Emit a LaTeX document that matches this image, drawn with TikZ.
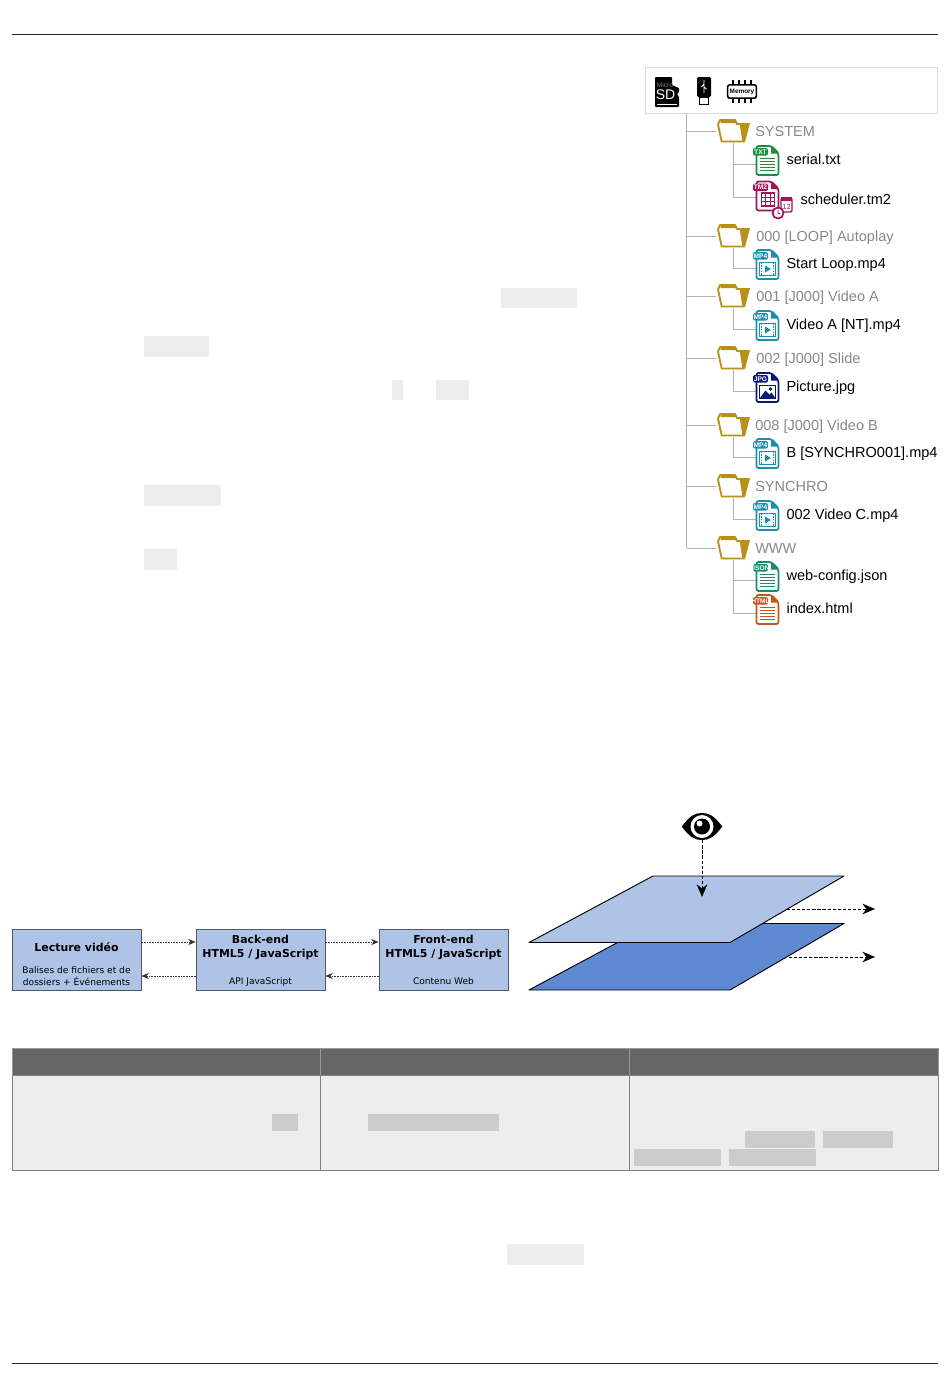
\documentclass[tikz,border=0pt]{standalone}
\usepackage{fontspec}
\setmainfont{Liberation Sans}
\newfontfamily\dejavu{DejaVu Sans}
\usetikzlibrary{positioning,arrows.meta}

\definecolor{dirclr}{HTML}{B8901A}
\definecolor{txtclr}{HTML}{1E8C3A}
\definecolor{tmclr}{HTML}{A6125A}
\definecolor{mpclr}{HTML}{1A8FAE}
\definecolor{jpgclr}{HTML}{0A1580}
\definecolor{jsonclr}{HTML}{1B8A6B}
\definecolor{htmlclr}{HTML}{C2541C}
\definecolor{blockclr}{HTML}{AEC3E6}
\definecolor{deepclr}{HTML}{5F8AD2}

\newcommand{\doclines}{%
  \foreach \ly in {-2,1,4,7,10} \draw[line width=1.1pt] (-7.5,\ly) -- (7.5,\ly);
}
\newcommand{\docvideo}{%
  \draw[line width=1pt] (-8,-2) rectangle (8,11);
  \draw[line width=1pt,dash pattern=on 1.2pt off .8pt] (-6,-2) -- (-6,11) (6,-2) -- (6,11);
  \fill (-2.5,1) -- (3.5,4.5) -- (-2.5,8) -- cycle;
}
\newcommand{\docimage}{%
  \draw[line width=1pt] (-8,-2) rectangle (8,11);
  \fill (-8,11) -- (-2,3) -- (2,7) -- (4,5) -- (8,11) -- cycle;
  \fill (3,1.5) circle (1.8);
}
\newcommand{\docgrid}{%
  \foreach \gx in {-1.7,2.6} \draw[line width=.9pt] (\gx,-3) -- (\gx,9.9);
  \foreach \gy in {1.3,5.6} \draw[line width=.9pt] (-6,\gy) -- (6.9,\gy);
  \draw[line width=1pt] (-6,-3) rectangle (6.9,9.9);
  \draw[line width=1pt,rounded corners=1pt,fill=white] (13.5,2) rectangle (24.5,16);
  \fill (13.5,1) rectangle (24.5,5);
  \node[inner sep=0pt,font=\fontsize{5.5}{5.5}\selectfont] (calday) at (19,10.5) {12};
  \draw[line width=1.3pt,fill=white] (10.5,17) circle (5.5);
  \draw[line width=.7pt] (10.5,14) -- (10.5,17) -- (13,18);
}

\tikzset{
  pageline/.style={line width=.6pt,black!85},
  codebar/.style={fill=black!7},
  codedark/.style={fill=black!20},
  mediabox/.style={draw=black!14,line width=.5pt,fill=white,minimum width=219pt,minimum height=34.5pt,inner sep=0pt},
  treeline/.style={draw=black!30,line width=.7pt},
  dirbox/.style={minimum width=24.75pt,minimum height=17.25pt,inner sep=0pt},
  filebox/.style={minimum width=17.25pt,minimum height=22.5pt,inner sep=0pt},
  dirlabel/.style={inner sep=0pt,text=black!47,font=\fontsize{10.9}{12}\selectfont,text height=8pt,text depth=2pt,yshift=-.75pt},
  filelabel/.style={inner sep=0pt,text=black,font=\fontsize{10.9}{12}\selectfont,text height=8pt,text depth=2pt},
  blockbox/.style={draw=black!55!blockclr,line width=.6pt,fill=blockclr,minimum width=96.75pt,minimum height=45.75pt,inner sep=0pt},
  blocktitle/.style={inner sep=0pt,align=center,font=\dejavu\bfseries\fontsize{8.2}{9.9}\selectfont},
  blocknote/.style={inner sep=0pt,align=center,font=\dejavu\fontsize{6.8}{9}\selectfont,text depth=1.5pt},
  flowline/.style={-{Stealth[length=5.5pt,width=4.5pt]},black!80,line width=.4pt,dash pattern=on 1.3pt off .7pt},
  planeline/.style={draw=black,line width=.7pt,line join=round},
  viewline/.style={-{Stealth[length=9.5pt,width=8pt]},black,line width=.65pt,dash pattern=on 2.4pt off 1.4pt},
  pics/foldericon/.style={code={
    \draw[dirclr,line width=1.4pt,line join=round,fill=white]
      (-15,-6.5) -- (-13,-11) -- (2,-11) -- (4,-7) -- (9,-7) -- (11,10.5) -- (-11.3,10.5) -- cycle;
    \fill[dirclr] (6.5,-8) -- (17,-8) -- (12,11) -- (9.5,11) -- cycle;
    \fill[dirclr] (-12.5,-11.5) -- (2.5,-11.5) -- (4,-8) -- (-12.5,-8) -- cycle;
  }},
  pics/docicon/.style n args={3}{code={
    \begin{scope}[color=#1]
      \draw[line width=1.3pt,line join=round,fill=white,rounded corners=1.5pt]
        (-11,-14.5) -- (4,-14.5) -- (11,-7.5) -- (11,14.5) -- (-11,14.5) -- cycle;
      \fill (3.5,-14.5) -- (11,-7) -- (3.5,-7) -- cycle;
      \fill[rounded corners=1.5pt] (-14.5,-12.5) rectangle (0.5,-5);
      \node[inner sep=0pt,text=white,font=\bfseries\fontsize{5}{5}\selectfont] (tag) at (-7,-8.7) {#2};
      #3
    \end{scope}
  }},
}

\begin{document}
\begin{tikzpicture}[x=.75pt,y=-.75pt]
  \useasboundingbox (0,0) rectangle (950,1397);

  % page rules and leftover code bars
  \draw[pageline] (12,34) -- (938,34) (12,1363) -- (938,1363);
  \foreach \xa/\ya/\xb/\yb in {501/288/577/308,144/336/209/357,392/380/403/400,436/380/469/400,144/485/221/506,144/549/177/570,507/1244/584/1265}
    \fill[codebar] (\xa,\ya) rectangle (\xb,\yb);

  % storage media
  \node[mediabox] (media) at (791,90) {};
  \fill[black,rounded corners=.6pt] (655,77) -- (672,77) -- (672,85) -- (679,88) -- (679,92) -- (677,94) -- (679,97) -- (679,107) -- (655,107) -- cycle;
  \node[inner sep=0pt,text=black!50,font=\fontsize{5}{5}\selectfont] (sdsmall) at (665,85) {Micro};
  \node[inner sep=0pt,text=white,font=\fontsize{10.5}{11}\selectfont] (sdbig) at (665.5,95) {SD};
  \draw[white,line width=.5pt] (657,104) -- (677,104);
  \fill[black,rounded corners=1pt] (697,77) rectangle (711,97);
  \draw[black,line width=1.1pt,fill=white] (699.5,97) rectangle (708.5,104.5);
  \draw[white,line width=.6pt] (704,80) -- (704,93) (704,84) -- (701.5,87) (704,87) -- (706.5,89);
  \foreach \px in {733,739,745,751}
    \draw[black,line width=2pt] (\px,80) -- (\px,103);
  \node[draw=black,line width=1.2pt,fill=white,rounded corners=1.5pt,minimum width=21.5pt,minimum height=10pt,inner sep=0pt,font=\bfseries\fontsize{4.8}{5}\selectfont] (memory) at (742,91.5) {Memory};

  % tree of folders
  \coordinate (trunk) at (686.5,113);
  \draw[treeline] (trunk) -- (686.5,548);
  \foreach \id/\ypos/\xtxt/\txt in {System/131/755/SYSTEM,Loop/236/756/000 [LOOP] Autoplay,VideoA/296/756/001 [J000] Video A,Slide/358/756/002 [J000] Slide,VideoB/425/755/008 [J000] Video B,Synchro/486/755/SYNCHRO,Www/548/755/WWW}
  {
    \node[dirbox] (dir\id) at (733,\ypos) {};
    \draw[treeline] (trunk |- dir\id.west) -- (dir\id.west);
    \node[dirlabel,anchor=west] (lbl\id) at (\xtxt,\ypos) {\txt};
  }

  % files below the folders
  \foreach \id/\fdir/\ypos/\clr/\ftag/\fitem/\txt in {%
    Serial/System/164/txtclr/TXT/\doclines/serial.txt,
    Start/Loop/268/mpclr/MP4/\docvideo/Start Loop.mp4,
    ClipA/VideoA/329/mpclr/MP4/\docvideo/Video A [NT].mp4,
    Picture/Slide/391/jpgclr/JPG/\docimage/Picture.jpg,
    ClipB/VideoB/457/mpclr/MP4/\docvideo/B [SYNCHRO001].mp4,
    ClipC/Synchro/519/mpclr/MP4/\docvideo/002 Video C.mp4,
    Config/Www/580/jsonclr/JSON/\doclines/web-config.json,
    Index/Www/613/htmlclr/HTML/\doclines/index.html}
  {
    \node[filebox] (file\id) at (767.5,\ypos) {};
    \draw[treeline] (dir\fdir.south) |- (file\id.west);
    \pic at ([shift={(0,-3.5)}]file\id) {docicon={\clr}{\ftag}{\fitem}};
    \node[filelabel,right=5.25pt of file\id,yshift=2.4pt] (lbl\id) {\txt};
  }
  \node[filebox] (fileSched) at (767.5,197) {};
  \draw[treeline] (dirSystem.south) |- (fileSched.west);
  \pic at ([shift={(0,-1)}]fileSched) {docicon={tmclr}{TM2}{\docgrid}};
  \node[filelabel,right=15.75pt of fileSched,yshift=-2.9pt] (lblSched) {scheduler.tm2};

  \foreach \id in {System,Loop,VideoA,Slide,VideoB,Synchro,Www}
    \pic at (dir\id) {foldericon};

  % blocks
  \node[blockbox] (video) at (76.5,959.5) {};
  \node[blockbox] (backend) at (260.5,959.5) {};
  \node[blockbox] (frontend) at (443.5,959.5) {};
  \node[blocktitle,below=10.5pt of video.north] (videoT) {Lecture vidéo};
  \node[blocknote,above=2.2pt of video.south] (videoN) {Balises de fichiers et de\\dossiers + Événements};
  \node[blocktitle,below=5pt of backend.north] (backendT) {Back-end\\HTML5 / JavaScript};
  \node[blocknote,above=3pt of backend.south] (backendN) {API JavaScript};
  \node[blocktitle,below=5pt of frontend.north] (frontendT) {Front-end\\HTML5 / JavaScript};
  \node[blocknote,above=3pt of frontend.south] (frontendN) {Contenu Web};
  \coordinate (rowTop) at (0,942);
  \coordinate (rowBot) at (0,976);
  \path[flowline]
    (video.east |- rowTop) edge (backend.west |- rowTop)
    (backend.east |- rowTop) edge (frontend.west |- rowTop)
    (frontend.west |- rowBot) edge (backend.east |- rowBot)
    (backend.west |- rowBot) edge (video.east |- rowBot)
    ;

  % layers
  \draw[planeline,fill=deepclr] (529,990) -- (653,923.5) -- (844,923.5) -- (730,990) -- cycle;
  \draw[planeline,fill=blockclr] (529,942.5) -- (653,876) -- (844,876) -- (730,942.5) -- cycle;
  \node[inner sep=0pt,minimum width=30pt,minimum height=20.25pt] (eye) at (702,826.5) {};
  \fill[black] (eye.west) .. controls (690,815.5) and (695,813) .. (702,813) .. controls (709,813) and (714,815.5) .. (eye.east) .. controls (714,837.5) and (709,840) .. (702,840) .. controls (695,840) and (690,837.5) .. (eye.west) -- cycle;
  \fill[white] (eye.center) circle (11.5);
  \fill[black] (eye.center) circle (8);
  \fill[white] (699.5,823.5) circle (3);
  \coordinate (viewEnd) at (702,897);
  \coordinate (topExit) at (787,909);
  \coordinate (topOut) at (875,909);
  \coordinate (lowExit) at (789,957);
  \coordinate (lowOut) at (875,957);
  \path[viewline]
    (eye.south) edge (viewEnd)
    (topExit) edge (topOut)
    (lowExit) edge (lowOut)
    ;

  % table
  \foreach \xa/\xb in {12/320,320/629,629/938}
  {
    \draw[draw=black!40,line width=.6pt,fill=black!60] (\xa,1048) rectangle (\xb,1075);
    \draw[draw=black!50,line width=.6pt,fill=black!7] (\xa,1075) rectangle (\xb,1170);
  }
  \foreach \xa/\ya/\xb/\yb in {272/1114/298/1131,368/1114/499/1131,745/1131/815/1148,823/1131/893/1148,634/1149/721/1166,729/1149/816/1166}
    \fill[codedark] (\xa,\ya) rectangle (\xb,\yb);
\end{tikzpicture}
\end{document}
